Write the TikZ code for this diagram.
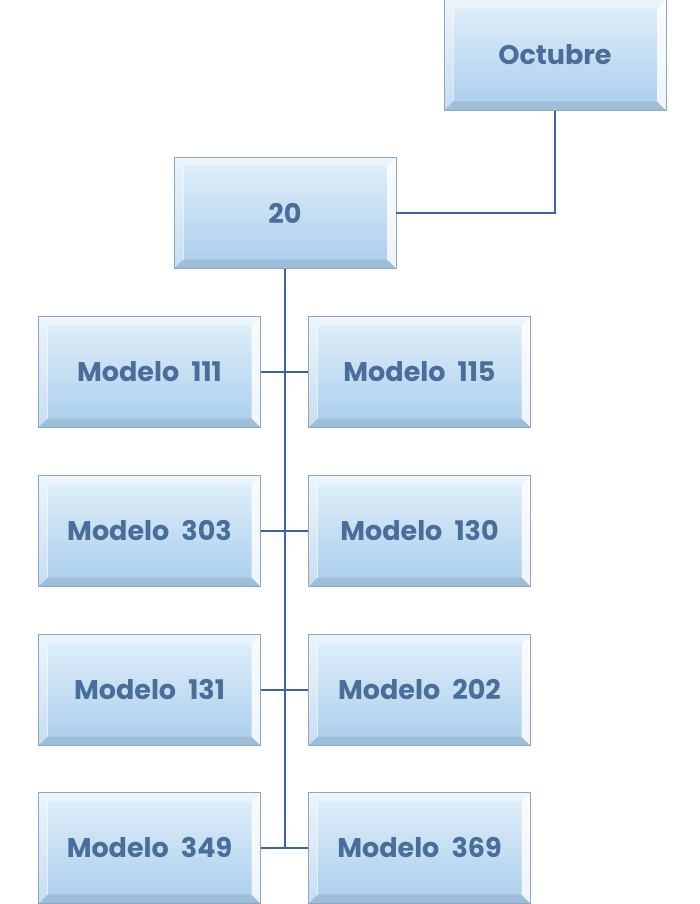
\documentclass[tikz,border=0pt]{standalone}
\usepackage{fontspec}
\setmainfont{Poppins}
\usetikzlibrary{calc}
\definecolor{txtblue}{HTML}{4A6E9A}
\definecolor{lineblue}{HTML}{3F5FA8}
\definecolor{boxtop}{HTML}{E2F0FA}
\definecolor{boxbot}{HTML}{A9CDEB}
\definecolor{boxedge}{HTML}{8FA6BC}
\newcommand{\gap}{\hspace{0.45em}}
\tikzset{
  bevelbox/.style={draw=boxedge, line width=0.8pt, top color=boxtop, bottom color=boxbot,
    minimum width=222pt, minimum height=111pt, inner sep=0pt, text=txtblue,
    font=\bfseries\fontsize{27}{30}\selectfont,
    path picture={
      \coordinate (nw) at (path picture bounding box.north west);
      \coordinate (ne) at (path picture bounding box.north east);
      \coordinate (sw) at (path picture bounding box.south west);
      \coordinate (se) at (path picture bounding box.south east);
      \fill[white, opacity=0.35] (nw) -- (ne) -- ($(ne)+(-9pt,-9pt)$) -- ($(nw)+(9pt,-9pt)$) -- cycle;
      \fill[white, opacity=0.35] (nw) -- ($(nw)+(9pt,-9pt)$) -- ($(sw)+(9pt,9pt)$) -- (sw) -- cycle;
      \fill[white, opacity=0.8] (ne) -- (se) -- ($(se)+(-9pt,9pt)$) -- ($(ne)+(-9pt,-9pt)$) -- cycle;
      \fill[boxbot!70!black, opacity=0.25] (sw) -- (se) -- ($(se)+(-9pt,9pt)$) -- ($(sw)+(9pt,9pt)$) -- cycle;
      \draw[white, opacity=0.6, line width=0.6pt] ($(nw)+(9pt,-9pt)$) -- ($(sw)+(9pt,9pt)$);
    }},
  link/.style={draw=lineblue, line width=2pt}
}
\begin{document}
\begin{tikzpicture}[x=1pt,y=1pt]
\useasboundingbox (0,0) rectangle (699,-904);
\node[bevelbox] (oct) at (555,-55) {Octubre};
\node[bevelbox] (n20) at (285,-213) {20};
\node[bevelbox] (m111) at (149.5,-372) {Modelo\gap 111};
\node[bevelbox] (m115) at (419.5,-372) {Modelo\gap 115};
\node[bevelbox] (m303) at (149.5,-531) {Modelo\gap 303};
\node[bevelbox] (m130) at (419.5,-531) {Modelo\gap 130};
\node[bevelbox] (m131) at (149.5,-690) {Modelo\gap 131};
\node[bevelbox] (m202) at (419.5,-690) {Modelo\gap 202};
\node[bevelbox] (m349) at (149.5,-848) {Modelo\gap 349};
\node[bevelbox] (m369) at (419.5,-848) {Modelo\gap 369};
\coordinate (tr) at (285,-848);
\draw[link] (oct.south) |- (n20.east);
\draw[link] (n20.south) -- (tr);
\foreach \l/\r in {m111/m115, m303/m130, m131/m202, m349/m369}{
  \draw[link] (\l.east) -- (\r.west);
}
\end{tikzpicture}
\end{document}
